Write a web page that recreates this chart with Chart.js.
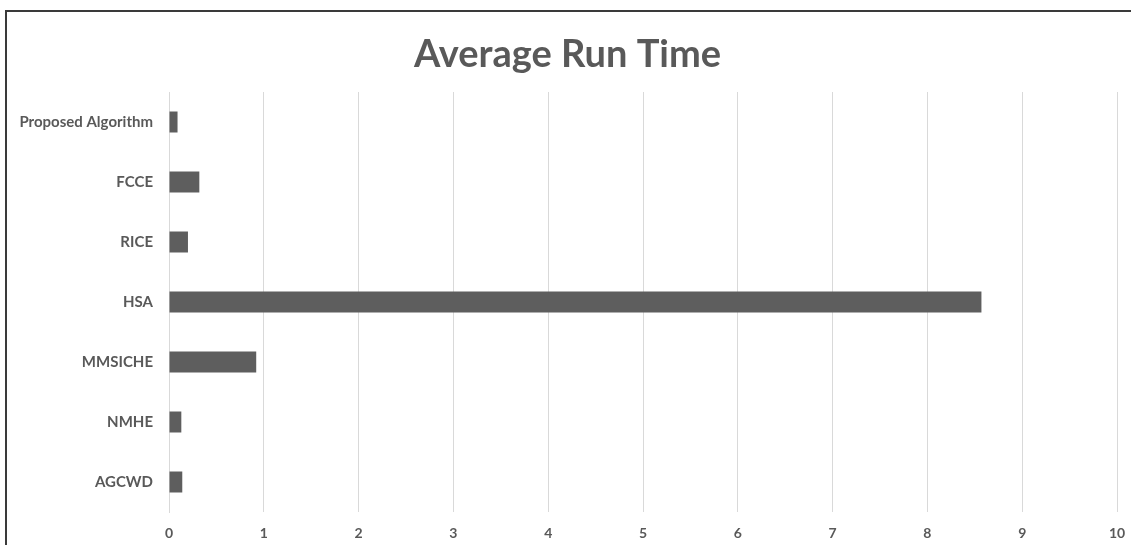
<!DOCTYPE html>
<html>
<head>
<meta charset="utf-8">
<style>
  html, body { margin: 0; padding: 0; background: #ffffff; overflow: hidden; }
  #frame {
    position: absolute; left: 0; top: 0; width: 1131px; height: 545px;
  }
  #edge {
    position: absolute; left: 5px; top: 10px; width: 1200px; height: 600px;
    border-top: 2px solid #3a3a3a; border-left: 2px solid #3a3a3a;
    pointer-events: none;
  }
  canvas { position: absolute; left: 0; top: 0; }
</style>
<script src="https://cdn.jsdelivr.net/npm/chart.js@4.4.1/dist/chart.umd.min.js"></script>
</head>
<body>
<div id="frame">
  <canvas id="chart" width="1131" height="545"></canvas>
  <div id="edge"></div>
</div>
<script>
// Methods compared and their average run time (seconds)
const methods = ['Proposed Algorithm', 'FCCE', 'RICE', 'HSA', 'MMSICHE', 'NMHE', 'AGCWD'];
const runTimes = [0.09, 0.32, 0.20, 8.57, 0.92, 0.13, 0.14];
const xTicks = [0, 1, 2, 3, 4, 5, 6, 7, 8, 9, 10];

const textGray = '#595959';
const fontFamily = "'Lato', 'Open Sans', sans-serif";

new Chart(document.getElementById('chart'), {
  type: 'bar',
  data: {
    labels: methods,
    datasets: [{
      label: 'Average Run Time',
      data: runTimes,
      backgroundColor: '#5e5e5e',
      borderWidth: 0,
      barPercentage: 0.35,
      categoryPercentage: 1.0
    }]
  },
  options: {
    indexAxis: 'y',
    responsive: false,
    animation: false,
    layout: { padding: { top: 24, right: 14, bottom: 0, left: 18 } },
    plugins: {
      legend: { display: false },
      tooltip: { enabled: false },
      title: {
        display: true,
        text: 'Average Run Time',
        color: textGray,
        font: { family: fontFamily, size: 38, weight: 'bold', lineHeight: 1.2 },
        padding: { top: 8, bottom: 14.4 }
      }
    },
    scales: {
      x: {
        min: 0,
        max: 10,
        afterBuildTicks: (scale) => { scale.ticks = xTicks.map(v => ({ value: v })); },
        afterFit: (scale) => {
          scale.height = 33;
          scale.paddingLeft = 0;
          scale.paddingRight = 0;
        },
        grid: { color: '#d9d9d9', lineWidth: 1, drawTicks: false },
        border: { display: false },
        ticks: {
          color: textGray,
          padding: 13,
          font: { family: fontFamily, size: 14, weight: 'bold' }
        }
      },
      y: {
        afterFit: (scale) => { scale.width = 151; },
        grid: { display: false, drawTicks: false },
        border: { display: true, color: '#d9d9d9', width: 1 },
        ticks: {
          color: textGray,
          padding: 16,
          font: { family: fontFamily, size: 15, weight: 'bold' }
        }
      }
    }
  }
});
</script>
</body>
</html>
